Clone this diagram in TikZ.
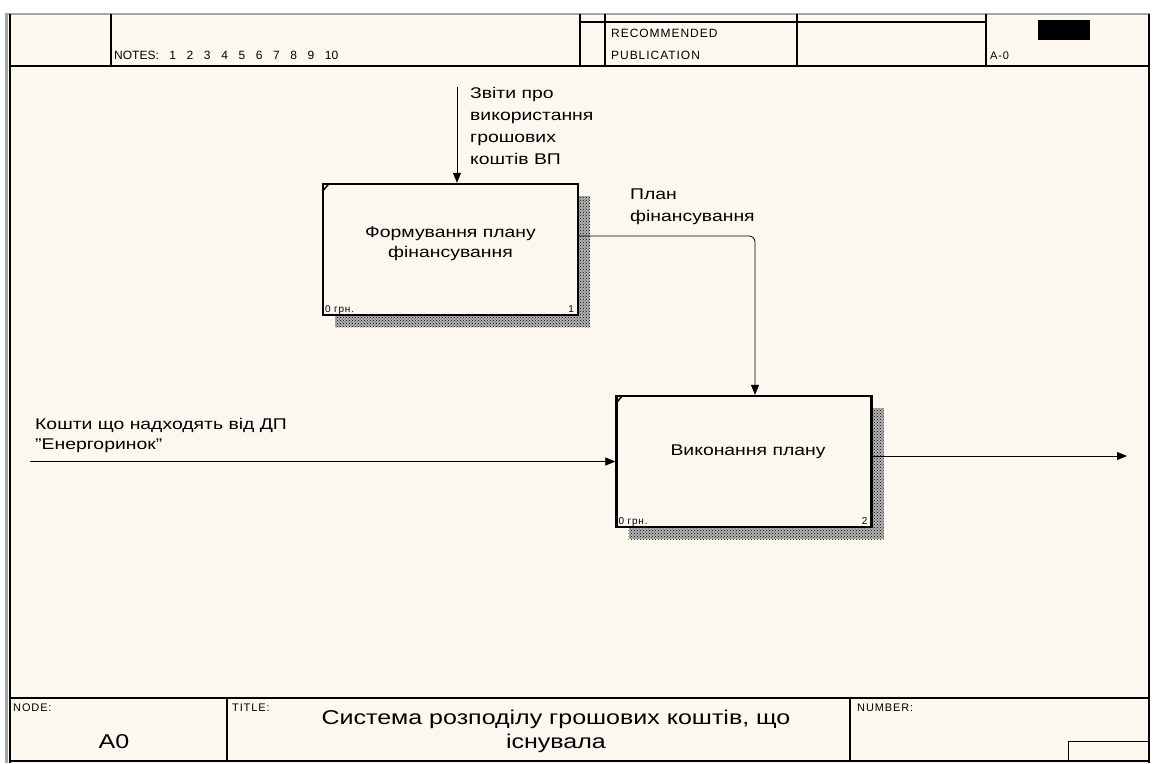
\documentclass[tikz,border=0pt]{standalone}
\usepackage{fontspec}
\setmainfont{Liberation Sans}[FakeStretch=1.25]
\newfontfamily\plainsans{Liberation Sans}
\newfontfamily\tagfont{Liberation Sans}[LetterSpace=8]
\usepackage{tikz}
\usetikzlibrary{arrows.meta,calc,shadows,patterns}
\definecolor{paper}{RGB}{252,248,240}
\definecolor{rim}{RGB}{165,165,165}

\begin{document}
\begin{tikzpicture}[x=1pt,y=-1pt,
  act/.style={draw,line width=2.4pt,fill=paper,minimum width=255pt,minimum height=131pt,inner sep=0pt,
    drop shadow={shadow xshift=12pt,shadow yshift=-12pt,opacity=1,fill=black!30},
    drop shadow={shadow xshift=12pt,shadow yshift=-12pt,opacity=1,fill=none,pattern=crosshatch dots,pattern color=black}},
  acttext/.style={font=\fontsize{15.5}{20}\selectfont,align=center,inner sep=0pt},
  lab/.style={font=\fontsize{15.5}{22}\selectfont,align=left,inner sep=0pt},
  tag/.style={font=\tagfont\fontsize{11}{13}\selectfont,inner sep=0pt},
  cost/.style={font=\tagfont\fontsize{10}{11}\selectfont,inner sep=0pt},
  ar/.style={-{Triangle[length=10pt,width=8pt]},line width=0.8pt},
  rule/.style={line width=1.4pt}]

\useasboundingbox (0,0) rectangle (1153,763);
\fill[white] (0,0) rectangle (1153,763);
\fill[paper] (9,14) rectangle (1150,763);
\draw[rim,line width=2pt] (5,14) -- (1150,14);
\draw[rim,line width=3pt] (6.5,14) -- (6.5,763);
\draw[rule] (10,14) -- (10,763);
\draw[rule] (1149,14) -- (1149,763);

% header
\draw[rule] (10,66) -- (1149,66);
\foreach \x in {111,580,605,797,986}
  \draw[rule] (\x,14) -- (\x,66);
\draw[rule] (580,22) -- (986,22);
\fill (1038,20) rectangle (1090,40);
\node[font=\plainsans\fontsize{12}{14}\selectfont,inner sep=0pt,anchor=base west] (notes) at (114,59)
  {\makebox[224pt][s]{NOTES: 1 2 3 4 5 6 7 8 9 10}};
\node[tag,font=\tagfont\fontsize{12}{14}\selectfont,anchor=base west] (rec) at (611,37) {RECOMMENDED};
\node[tag,font=\tagfont\fontsize{12}{14}\selectfont,anchor=base west] (pub) at (611,59) {PUBLICATION};
\node[tag,anchor=base west] (sheet) at (990,59) {A-0};

% footer
\draw[rule] (10,698) -- (1149,698);
\draw[rule] (10,761) -- (1149,761);
\draw[rule] (227,698) -- (227,761);
\draw[rule] (850,698) -- (850,761);
\draw[line width=1pt] (1149,741) -| (1068,761);
\node[tag,anchor=base west] (nodetag) at (13,711) {NODE:};
\node[tag,anchor=base west] (titletag) at (232,711) {TITLE:};
\node[tag,anchor=base west] (numtag) at (857,711) {NUMBER:};
\node[font=\fontsize{20}{24}\selectfont,inner sep=0pt,anchor=base] (nodeno) at (114,748) {A0};
\node[font=\fontsize{20}{24}\selectfont,align=center,inner sep=0pt,anchor=north] (title) at (556,709.5)
  {Система розподілу грошових коштів, що\\існувала};

% activities
\node[act] (F) at (450.5,249.5) {};
\node[act] (V) at (744,461.5) {};
\foreach \b/\n in {F/1,V/2}{
  \draw[line width=1.5pt] ($(\b.north west)+(2,7)$) -- ($(\b.north west)+(7,1)$);
  \node[cost,anchor=base west] (\b-cost) at ($(\b.south west)+(3,-3.5)$) {0 грн.};
  \node[cost,anchor=base east] (\b-num) at ($(\b.south east)+(-5,-3.5)$) {\n};
}
\node[acttext,anchor=north] (F-text) at (450.5,227) {Формування плану\\фінансування};
\node[acttext,anchor=base] (V-text) at (748,455) {Виконання плану};

% arrows
\coordinate (ctrl) at (457,87);
\coordinate (inp) at (30,461.5);
\coordinate (outp) at (1127,456);
\draw[ar] (ctrl) -- (ctrl |- F.north);
\draw[ar,rounded corners=6pt] (F.east |- 0,236) -| ([xshift=11pt]V.north);
\draw[ar] (inp) -- (V.west);
\draw[ar] (V.east |- outp) -- (outp);

\node[lab,anchor=north west] (ctrl-lab) at (470,86.8) {Звіти про\\використання\\грошових\\коштів ВП};
\node[lab,anchor=north west] (plan-lab) at (630,188.8) {План\\фінансування};
\node[lab,anchor=north west] (inp-lab) at (35,418) {Кошти що надходять від ДП\\[-2pt]\char34 Енергоринок\char34};
\end{tikzpicture}
\end{document}
